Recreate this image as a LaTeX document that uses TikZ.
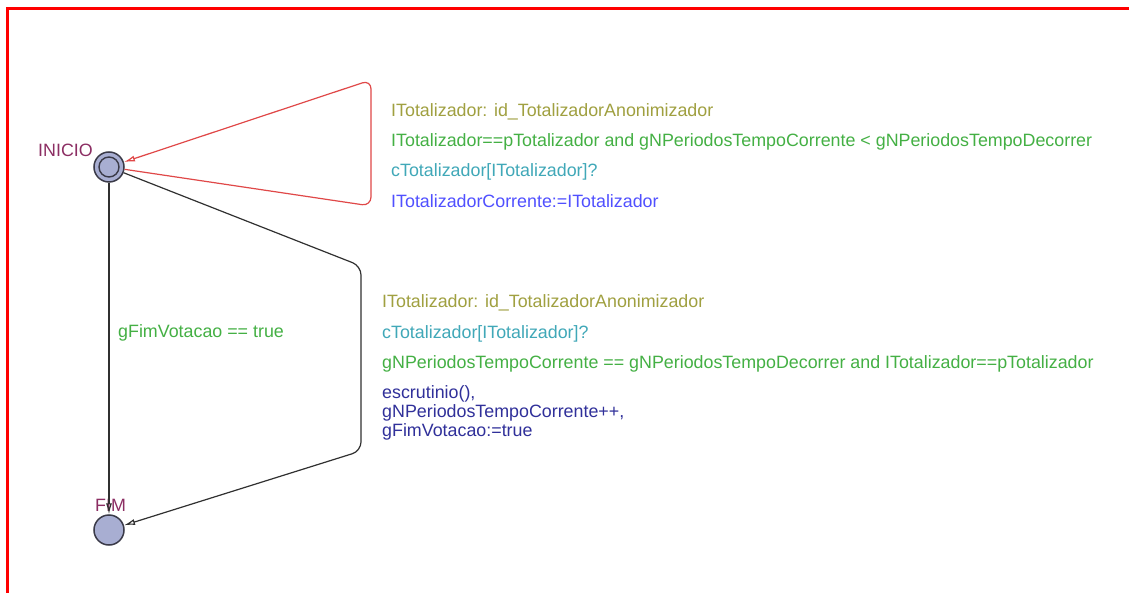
\documentclass[tikz,border=0pt]{standalone}
\usepackage{fontspec}
\setmainfont{Liberation Sans}
\usetikzlibrary{arrows.meta}

\definecolor{locfill}{HTML}{A8AED2}
\definecolor{locline}{HTML}{3A3A48}
\definecolor{locname}{HTML}{8C2E63}
\definecolor{selcol}{HTML}{A0A040}
\definecolor{guardcol}{HTML}{44B044}
\definecolor{synccol}{HTML}{40A8B8}
\definecolor{assigncol}{HTML}{5050FF}
\definecolor{updcol}{HTML}{30309A}
\definecolor{edgeblack}{HTML}{303030}
\definecolor{edgered}{HTML}{E04848}

\tikzset{
  location/.style={circle, draw=locline, fill=locfill, line width=1.5pt,
    minimum size=30pt, inner sep=0pt},
  lbl/.style={font=\fontsize{17.85}{19}\selectfont, inner sep=0pt, anchor=base west},
  trans/.style={line width=1.2pt, rounded corners=9pt,
    -{Latex[open,length=11pt,width=6pt]}},
}

\begin{document}
\begin{tikzpicture}[x=1pt, y=-1pt]
  \useasboundingbox (0,0) rectangle (1129,593);
  \fill[white] (0,0) rectangle (1129,593);

  % frame of the template
  \draw[red, line width=3pt] (7.3,593) |- (1129,8.2);

  % locations
  \node[location] (inicio) at (109,167) {};
  \draw[locline, line width=1.4pt] (inicio.center) circle (10);
  \node[location] (fim) at (109,530) {};

  \node[lbl, text=locname] (ninicio) at (38,156.5) {INICIO};
  \node[lbl, text=locname] (nfim) at (95,511) {FIM};

  % bend points of the transitions
  \coordinate (r1) at (371,80);
  \coordinate (r2) at (371,206);
  \coordinate (b1) at (361,266);
  \coordinate (b2) at (361,451);

  % self loop on INICIO
  \draw[trans, draw=edgered] (inicio) -- (r2) -- (r1) -- (inicio);
  % INICIO -> FIM (direct)
  \draw[trans, draw=edgeblack] (inicio) -- (fim);
  % INICIO -> FIM (via bends)
  \draw[trans, draw=edgeblack] (inicio) -- (b1) -- (b2) -- (fim);

  % labels of the self loop
  \node[lbl, text=selcol] (s1) at (391,117) {ITotalizador: id\_TotalizadorAnonimizador};
  \node[lbl, text=guardcol] (g1) at (391,147) {ITotalizador==pTotalizador and gNPeriodosTempoCorrente < gNPeriodosTempoDecorrer};
  \node[lbl, text=synccol] (c1) at (391,177) {cTotalizador[ITotalizador]?};
  \node[lbl, text=assigncol] (a1) at (391,208) {ITotalizadorCorrente:=ITotalizador};

  % label of the direct edge
  \node[lbl, text=guardcol] (g2) at (118,337.5) {gFimVotacao == true};

  % labels of the bent edge
  \node[lbl, text=selcol] (s3) at (382,308) {ITotalizador: id\_TotalizadorAnonimizador};
  \node[lbl, text=synccol] (c3) at (382,338) {cTotalizador[ITotalizador]?};
  \node[lbl, text=guardcol] (g3) at (382,368.5) {gNPeriodosTempoCorrente == gNPeriodosTempoDecorrer and ITotalizador==pTotalizador};
  \node[font=\fontsize{17.85}{19}\selectfont, inner sep=0pt, anchor=west, align=left, text=updcol] (a3) at (382,412.5)
    {escrutinio(),\\gNPeriodosTempoCorrente++,\\gFimVotacao:=true};
\end{tikzpicture}
\end{document}
